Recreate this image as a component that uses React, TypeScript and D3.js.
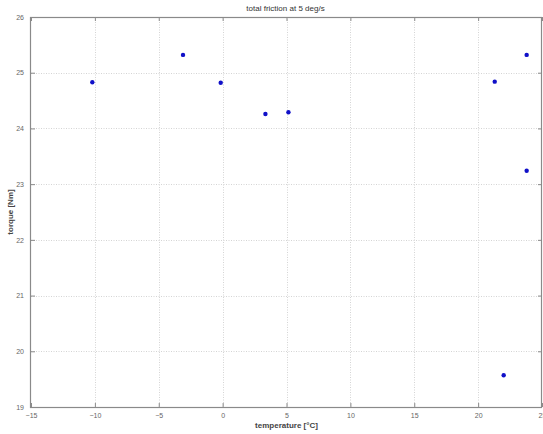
import { useEffect, useRef } from "react";
import * as d3 from "d3";

// measured points: temperature [°C] vs torque [Nm]
const temperature = [-10.2, -3.1, -0.15, 3.35, 5.15, 21.3, 23.8, 23.8, 22.0];
const torque = [24.83, 25.32, 24.82, 24.26, 24.29, 24.84, 25.32, 23.24, 19.57];
const xTicks = [-15, -10, -5, 0, 5, 10, 15, 20, 25];
const yTicks = [19, 20, 21, 22, 23, 24, 25, 26];

const width = 543;
const height = 434;
const margin = { left: 31, right: 1, top: 17, bottom: 27 };

const App = () => {
  const svgRef = useRef<SVGSVGElement>(null);

  useEffect(() => {
    const svg = d3.select(svgRef.current);
    svg.selectAll("*").remove();

    const x = d3.scaleLinear().domain([-15, 25]).range([margin.left, width - margin.right]);
    const y = d3.scaleLinear().domain([19, 26]).range([height - margin.bottom, margin.top]);

    const font = "Liberation Sans, Arial, sans-serif";

    // grid
    const grid = svg.append("g").attr("stroke", "#d4d4d4").attr("stroke-width", 1).attr("stroke-dasharray", "1,1.5");
    grid
      .selectAll("line.vx")
      .data(xTicks.slice(1, -1))
      .join("line")
      .attr("x1", (d) => Math.round(x(d)) + 0.5)
      .attr("x2", (d) => Math.round(x(d)) + 0.5)
      .attr("y1", y(26))
      .attr("y2", y(19));
    grid
      .selectAll("line.hy")
      .data(yTicks.slice(1, -1))
      .join("line")
      .attr("x1", x(-15))
      .attr("x2", x(25))
      .attr("y1", (d) => Math.round(y(d)) + 0.5)
      .attr("y2", (d) => Math.round(y(d)) + 0.5);

    // box
    svg
      .append("rect")
      .attr("x", x(-15) - 0.5)
      .attr("y", y(26) + 0.5)
      .attr("width", x(25) - x(-15))
      .attr("height", y(19) - y(26))
      .attr("fill", "none")
      .attr("stroke", "#8a8a8a")
      .attr("stroke-width", 1.2);

    // axes with inward ticks
    const xAxis = d3.axisBottom(x).tickValues(xTicks).tickSize(-4).tickPadding(8).tickFormat(d3.format("d"));
    const gx = svg.append("g").attr("transform", `translate(0, ${y(19)})`).call(xAxis);
    const yAxis = d3.axisLeft(y).tickValues(yTicks).tickSize(-4).tickPadding(7).tickFormat(d3.format("d"));
    const gy = svg.append("g").attr("transform", `translate(${x(-15)}, 0)`).call(yAxis);
    const gxTop = svg.append("g").attr("transform", `translate(0, ${y(26)})`).call(d3.axisTop(x).tickValues(xTicks).tickSize(-4).tickFormat(() => ""));
    const gyRight = svg.append("g").attr("transform", `translate(${x(25)}, 0)`).call(d3.axisRight(y).tickValues(yTicks).tickSize(-4).tickFormat(() => ""));
    [gx, gy, gxTop, gyRight].forEach((g) => {
      g.select(".domain").remove();
      g.selectAll("line").attr("stroke", "#8a8a8a");
      g.selectAll("text").attr("fill", "#666").attr("font-size", 7).attr("font-family", font);
    });
    gx.selectAll("text").attr("dy", "0.4em");

    // points
    svg
      .append("g")
      .selectAll("circle")
      .data(temperature.map((t, i) => [t, torque[i]]))
      .join("circle")
      .attr("cx", (d) => x(d[0]))
      .attr("cy", (d) => y(d[1]))
      .attr("r", 2.2)
      .attr("fill", "#1010c8");

    // labels
    svg
      .append("text")
      .attr("x", (x(-15) + x(25)) / 2 - 1)
      .attr("y", 11)
      .attr("text-anchor", "middle")
      .attr("font-size", 8)
      .attr("font-family", font)
      .attr("fill", "#333")
      .text("total friction at 5 deg/s");
    svg
      .append("text")
      .attr("x", (x(-15) + x(25)) / 2)
      .attr("y", 428)
      .attr("text-anchor", "middle")
      .attr("font-size", 8)
      .attr("font-weight", "bold")
      .attr("font-family", font)
      .attr("fill", "#444")
      .text("temperature [°C]");
    svg
      .append("text")
      .attr("transform", `translate(13, ${(y(19) + y(26)) / 2}) rotate(-90)`)
      .attr("text-anchor", "middle")
      .attr("font-size", 8)
      .attr("font-weight", "bold")
      .attr("font-family", font)
      .attr("fill", "#444")
      .text("torque [Nm]");
  }, []);

  return (
    <svg
      ref={svgRef}
      width={width}
      height={height}
      style={{ position: "absolute", left: 0, top: 0, background: "#fff" }}
    ></svg>
  );
};

export default App;
